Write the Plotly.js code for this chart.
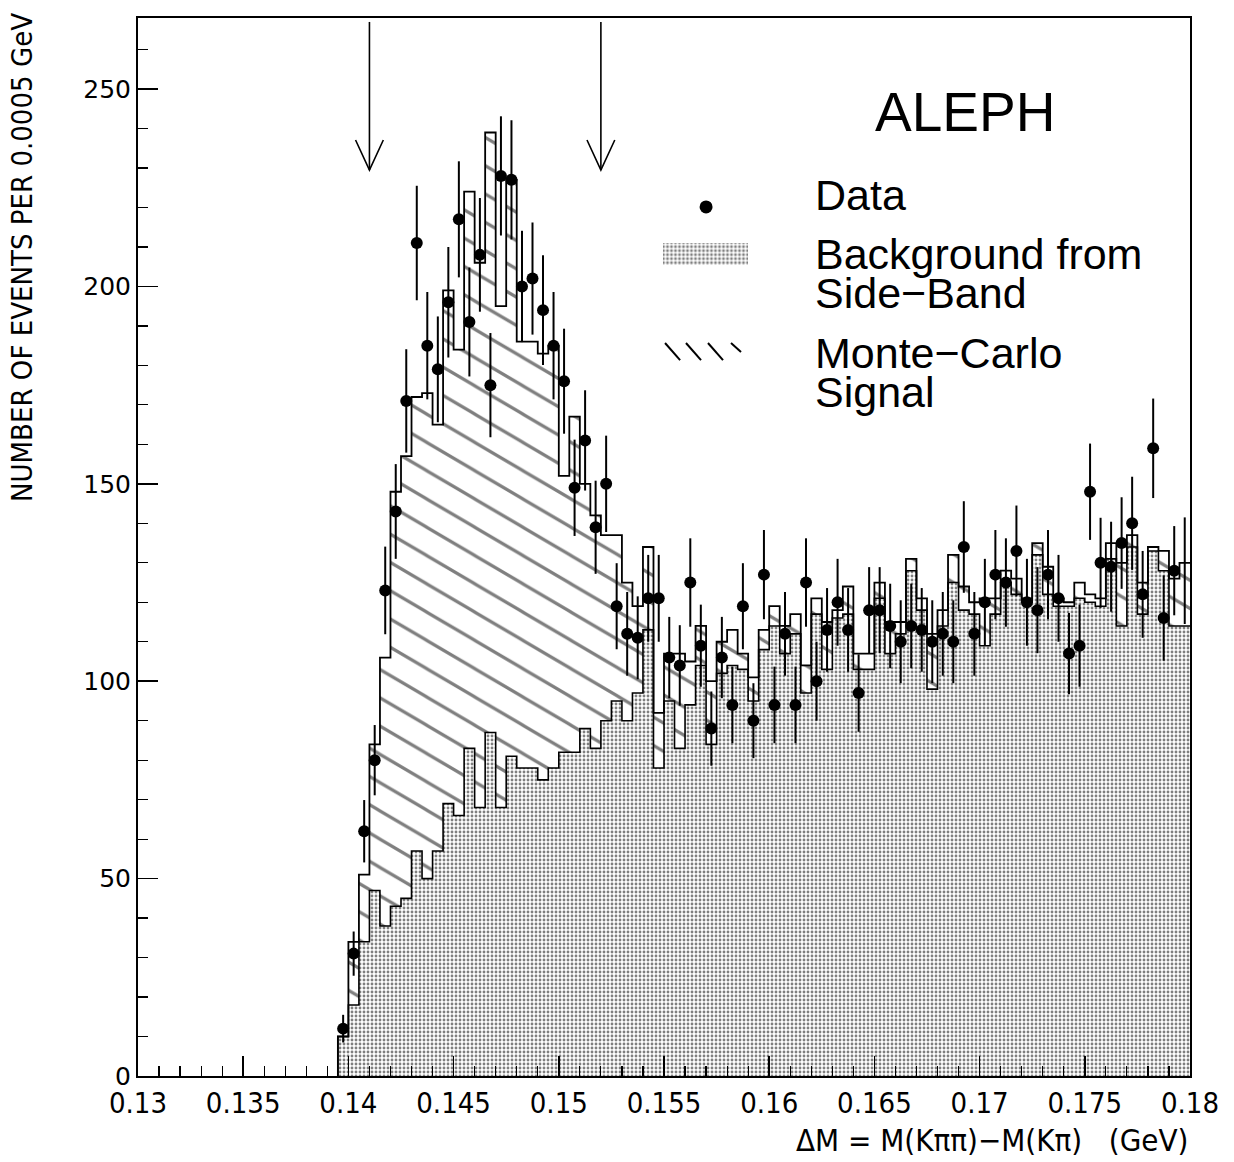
<!DOCTYPE html>
<html>
<head>
<meta charset="utf-8">
<script src="https://cdn.plot.ly/plotly-3.0.1.min.js"></script>
<style>
html,body{margin:0;padding:0;background:#ffffff;}
#chart{width:1234px;height:1162px;}
</style>
</head>
<body>
<div id="chart"></div>
<script>
// ---- bins (centres, GeV), width 0.0005 GeV ----
const binCenters = [
  0.13975,0.14025,0.14075,0.14125,0.14175,0.14225,0.14275,0.14325,0.14375,0.14425,
  0.14475,0.14525,0.14575,0.14625,0.14675,0.14725,0.14775,0.14825,0.14875,0.14925,
  0.14975,0.15025,0.15075,0.15125,0.15175,0.15225,0.15275,0.15325,0.15375,0.15425,
  0.15475,0.15525,0.15575,0.15625,0.15675,0.15725,0.15775,0.15825,0.15875,0.15925,
  0.15975,0.16025,0.16075,0.16125,0.16175,0.16225,0.16275,0.16325,0.16375,0.16425,
  0.16475,0.16525,0.16575,0.16625,0.16675,0.16725,0.16775,0.16825,0.16875,0.16925,
  0.16975,0.17025,0.17075,0.17125,0.17175,0.17225,0.17275,0.17325,0.17375,0.17425,
  0.17475,0.17525,0.17575,0.17625,0.17675,0.17725,0.17775,0.17825,0.17875,0.17925,
  0.17975
];
const binWidth = 0.0005;

// Background from side-band (stippled)
const background = [
  10,18,34,47,38,43,45,57,50,57,
  69,66,83,68,87,68,81,78,78,75,
  78,82,82,88,83,90,95,90,97,113,
  78,95,83,94,104,84,102,104,103,95,
  108,114,107,112,97,117,103,116,117,103,
  103,121,107,112,128,118,98,114,125,118,
  117,109,117,125,122,120,132,122,119,119,
  121,120,119,131,114,134,117,133,128,114,
  114
];

// Monte-Carlo signal stacked on the background (hatched)
const mcSignal = [
  0,16,17,37,68,105,112,115,123,108,
  130,118,141,138,152,127,146,108,108,108,
  107,70,85,62,59,47,42,35,22,21,
  14,12,24,11,10,16,8,9,4,6,
  5,5,7,5,7,4,12,2,7,4,
  4,4,8,3,3,3,14,4,7,6,
  3,12,4,3,4,1,3,7,2,1,
  4,2,2,4,16,3,8,1,5,12,
  16
];

// Data (events per bin) and their error bars
const dataCounts = [
  12,31,62,80,123,143,171,211,185,179,
  196,217,191,208,175,228,227,200,202,194,
  185,176,149,161,139,150,119,112,111,121,
  121,106,104,125,109,88,106,94,119,90,
  127,94,112,94,125,100,113,120,113,97,
  118,118,114,110,114,113,110,112,110,134,
  112,120,127,125,133,120,118,127,121,107,
  109,148,130,129,135,140,122,159,116,128,
  128
];
const dataErrors = [
  3.5,5.6,7.9,8.9,11.1,12.0,13.1,14.5,13.6,13.4,
  14.0,14.7,13.8,14.4,13.2,15.1,15.1,14.1,14.2,13.9,
  13.6,13.3,12.2,12.7,11.8,12.2,10.9,10.6,10.5,11.0,
  11.0,10.3,10.2,11.2,10.4,9.4,10.3,9.7,10.9,9.5,
  11.3,9.7,10.6,9.7,11.2,10.0,10.6,11.0,10.6,9.8,
  10.9,10.9,10.7,10.5,10.7,10.6,10.5,10.6,10.5,11.6,
  10.6,11.0,11.3,11.2,11.5,11.0,10.9,11.3,11.0,10.3,
  10.4,12.2,11.4,11.4,11.6,11.8,11.0,12.6,10.8,11.3,
  13.5
];

const xTickVals = [0.13,0.135,0.14,0.145,0.15,0.155,0.16,0.165,0.17,0.175,0.18];
const xTickText = ['0.13','0.135','0.14','0.145','0.15','0.155','0.16','0.165','0.17','0.175','0.18'];
const yTickVals = [0,50,100,150,200,250];
const yTickText = ['0','50','100','150','200','250'];
const arrowX = [0.141, 0.152];   // signal-window arrows

// ---- derived geometry ----
const edges = binCenters.map(c => c - binWidth / 2);
edges.push(binCenters[binCenters.length - 1] + binWidth / 2);
const totals = background.map((b, i) => b + mcSignal[i]);

function stepXY(vals) {
  const xs = [edges[0]], ys = [0];
  vals.forEach((v, i) => { xs.push(edges[i]); ys.push(v); });
  xs.push(edges[edges.length - 1]); ys.push(vals[vals.length - 1]);
  return {xs, ys};
}
const bgStep = stepXY(background);
const totStep = stepXY(totals);

const narrow = '"Liberation Sans Narrow", "DejaVu Sans Condensed", "Liberation Sans", Arial, sans-serif';
const plain = '"Liberation Sans", Arial, sans-serif';

const stipple = {shape: '.', fgcolor: '#000000', bgcolor: '#ffffff', size: 4, solidity: 0.4, fillmode: 'overlay'};
const hatch = {shape: '\\', fgcolor: '#000000', bgcolor: '#ffffff', size: 20, solidity: 0.13, fillmode: 'overlay'};

const traces = [
  {type: 'bar', x: binCenters, y: background, width: binWidth,
   marker: {color: '#ffffff', line: {width: 0}, pattern: stipple},
   hoverinfo: 'skip', showlegend: false},
  {type: 'bar', x: binCenters, y: mcSignal, base: background, width: binWidth,
   marker: {color: '#ffffff', line: {width: 0}, pattern: hatch},
   hoverinfo: 'skip', showlegend: false},
  {type: 'scatter', mode: 'lines', x: bgStep.xs, y: bgStep.ys,
   line: {shape: 'hv', color: '#000', width: 1.6}, hoverinfo: 'skip', showlegend: false},
  {type: 'scatter', mode: 'lines', x: totStep.xs, y: totStep.ys,
   line: {shape: 'hv', color: '#000', width: 1.8}, hoverinfo: 'skip', showlegend: false},
  {type: 'scatter', mode: 'markers', x: binCenters, y: dataCounts,
   marker: {color: '#000000', opacity: 1, line: {width: 0}, size: dataCounts.map((v, i) => i < 80 ? 12 : 0)},
   error_y: {type: 'data', array: dataErrors, visible: true, thickness: 2, width: 0, color: '#000'},
   showlegend: false},
  // legend swatches (on an auxiliary hidden axis pair in paper-like units)
  {type: 'bar', x: [0.5394], y: [0.0208], base: [0.7665], width: [0.0808],
   xaxis: 'x2', yaxis: 'y2', marker: {color: '#fff', line: {width: 0}, pattern: stipple},
   hoverinfo: 'skip', showlegend: false},
  {type: 'scatter', mode: 'markers', x: [0.540], y: [0.8214], xaxis: 'x2', yaxis: 'y2',
   marker: {color: '#000', opacity: 1, line: {width: 0}, size: 13}, hoverinfo: 'skip', showlegend: false}
];

const shapes = [];
// arrows built from arrowX
arrowX.forEach(ax => {
  shapes.push({type: 'line', xref: 'x', yref: 'y', x0: ax, x1: ax, y0: 267, y1: 229.5,
               line: {color: '#000', width: 1.6}});
  shapes.push({type: 'path', xref: 'x', yref: 'y',
               path: `M ${ax - 0.00066},237.1 L ${ax},229.5 L ${ax + 0.00066},237.1`,
               line: {color: '#000', width: 1.6}});
});
// legend key for the Monte-Carlo hatching: four short "\" strokes
[0.5010, 0.5209, 0.5418, 0.5637].forEach((sx, k) => {
  const last = k === 3;
  shapes.push({type: 'line', xref: 'paper', yref: 'paper',
               x0: sx, y0: 0.6928, x1: sx + (last ? 0.0095 : 0.0143), y1: last ? 0.6843 : 0.6767,
               line: {color: '#000', width: 2}});
});

const legendX = 0.6416;
const legendFont = {family: plain, size: 43, color: '#000'};
const annotations = [
  {text: 'ALEPH', xref: 'paper', yref: 'paper', x: 0.786, y: 0.911, xanchor: 'center', yanchor: 'middle',
   showarrow: false, font: {family: plain, size: 55, color: '#000'}},
  {text: 'Data', xref: 'paper', yref: 'paper', x: legendX, y: 0.8327, xanchor: 'left', yanchor: 'middle',
   showarrow: false, font: legendFont},
  {text: 'Background from', xref: 'paper', yref: 'paper', x: legendX, y: 0.7769, xanchor: 'left', yanchor: 'middle',
   showarrow: false, font: legendFont},
  {text: 'Side\u2212Band', xref: 'paper', yref: 'paper', x: legendX, y: 0.7401, xanchor: 'left', yanchor: 'middle',
   showarrow: false, font: legendFont},
  {text: 'Monte\u2212Carlo', xref: 'paper', yref: 'paper', x: legendX, y: 0.6834, xanchor: 'left', yanchor: 'middle',
   showarrow: false, font: legendFont},
  {text: 'Signal', xref: 'paper', yref: 'paper', x: legendX, y: 0.6465, xanchor: 'left', yanchor: 'middle',
   showarrow: false, font: legendFont},
  {text: 'NUMBER OF EVENTS PER 0.0005 GeV', xref: 'paper', yref: 'paper', x: -0.1103, y: 0.774,
   xanchor: 'center', yanchor: 'middle', textangle: -90, showarrow: false,
   font: {family: narrow, size: 29, color: '#000'}},
  {text: '\u0394M = M(K\u03c0\u03c0)\u2212M(K\u03c0)   (GeV)', xref: 'paper', yref: 'paper', x: 1.0, y: -0.0605,
   xanchor: 'right', yanchor: 'middle', showarrow: false,
   font: {family: narrow, size: 31, color: '#000'}}
];

const layout = {
  width: 1234, height: 1162,
  margin: {l: 138, r: 44, t: 18, b: 86, pad: 0},
  paper_bgcolor: '#fff', plot_bgcolor: '#fff',
  barmode: 'overlay', bargap: 0,
  showlegend: false,
  xaxis: {
    range: [0.13, 0.18], tickmode: 'array', tickvals: xTickVals, ticktext: xTickText,
    ticks: 'inside', ticklen: 20, tickwidth: 1.5, tickcolor: '#000',
    minor: {dtick: 0.001, tick0: 0.13, ticks: 'inside', ticklen: 10, tickwidth: 1.2, tickcolor: '#000', showgrid: false},
    showline: true, linecolor: '#000', linewidth: 2, mirror: true,
    showgrid: false, zeroline: false,
    tickfont: {family: narrow, size: 29, color: '#000'}
  },
  yaxis: {
    range: [0, 268], tickmode: 'array', tickvals: yTickVals, ticktext: yTickText,
    ticks: 'inside', ticklen: 20, tickwidth: 1.5, tickcolor: '#000',
    minor: {dtick: 10, tick0: 0, ticks: 'inside', ticklen: 10, tickwidth: 1.2, tickcolor: '#000', showgrid: false},
    showline: true, linecolor: '#000', linewidth: 2, mirror: true,
    showgrid: false, zeroline: false,
    tickfont: {family: '"DejaVu Sans", "Liberation Sans", sans-serif', size: 25, color: '#000'}
  },
  xaxis2: {domain: [0.49, 0.59], range: [0.49, 0.59], anchor: 'y2', visible: false, fixedrange: true},
  yaxis2: {domain: [0.6, 0.85], range: [0.6, 0.85], anchor: 'x2', visible: false, fixedrange: true},
  shapes: shapes,
  annotations: annotations
};

function flattenHatch() {
  // the reference hatches its signal histogram with lines shallower than 45 degrees:
  // stretch the line-type pattern (not the dotted stipple) horizontally
  document.querySelectorAll('pattern').forEach(p => {
    if (!p.querySelector('circle') && p.querySelector('path')) {
      p.setAttribute('patternTransform', 'scale(1.7,1)');
    }
  });
}

const gd = document.getElementById('chart');
const pr = Plotly.newPlot(gd, traces, layout, {displayModeBar: false, staticPlot: true});
flattenHatch();
pr.then(() => { flattenHatch(); setTimeout(flattenHatch, 0); setTimeout(flattenHatch, 100); });
</script>
</body>
</html>
